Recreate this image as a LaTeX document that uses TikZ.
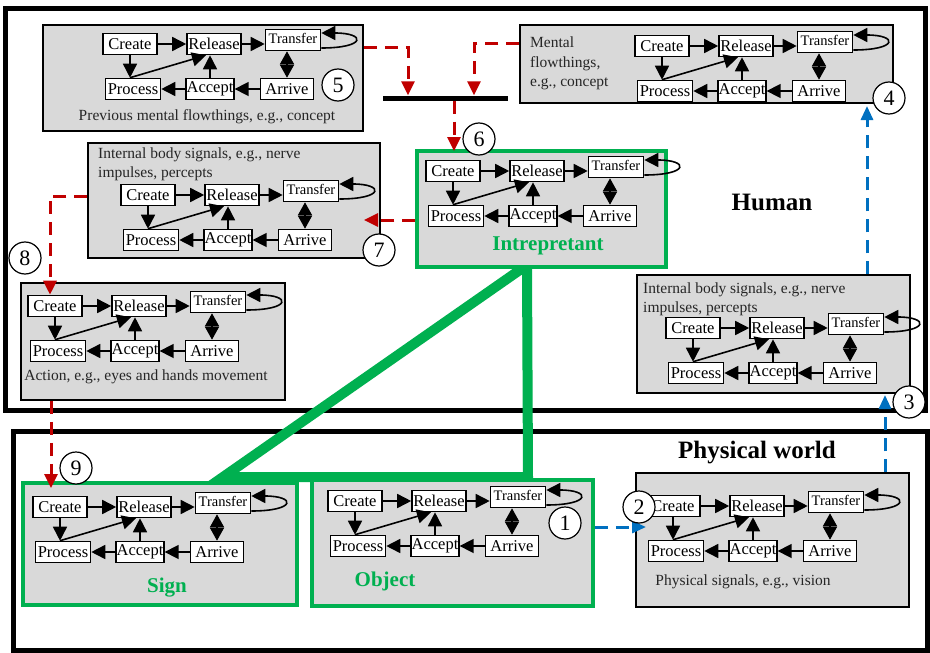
\documentclass[tikz,border=0pt]{standalone}
\usepackage{fontspec}
\setmainfont{Liberation Serif}
\usetikzlibrary{arrows.meta}

\definecolor{boxgray}{HTML}{D9D9D9}
\definecolor{signgreen}{HTML}{00B050}
\definecolor{flowred}{HTML}{C00000}
\definecolor{flowblue}{HTML}{0070C0}

\newcommand{\boxfont}{\fontsize{16.5}{17}\selectfont}
\newcommand{\transfont}{\fontsize{14.5}{15}\selectfont}
\newcommand{\descfont}{\fontsize{15.5}{18.5}\selectfont}
\newcommand{\numfont}{\fontsize{22}{24}\selectfont}
\newcommand{\labfont}{\fontsize{21}{24}\selectfont\bfseries}
\newcommand{\worldfont}{\fontsize{25}{28}\selectfont\bfseries}

% one flow system: #1 name prefix, (#2,#3) centre of Create
\newcommand{\flowsys}[3]{%
  \begin{scope}[shift={(#2,#3)}]
    \node[flowbox, minimum width=54] (#1c) at (0,0) {Create};
    \node[flowbox, minimum width=54] (#1r) at (84,0) {Release};
    \node[flowbox, minimum width=55, font=\transfont, text depth=4pt] (#1t) at (163,-4) {Transfer};
    \node[flowbox, minimum width=55] (#1p) at (3,45) {Process};
    \node[flowbox, minimum width=44] (#1a) at (80,45) {Accept};
    \node[flowbox, minimum width=53] (#1v) at (157,45) {Arrive};
    \draw[flowarr] (#1c) -- (#1r);
    \draw[flowarr] (#1r.east) -- (#1r.east -| #1t.west);
    \draw[flowarr] ([yshift=-8pt]#1t.east) .. controls +(45,0) and +(45,0) .. ([yshift=7pt]#1t.east);
    \draw[flowdbl] (#1v.north |- #1t.south) -- (#1v.north);
    \draw[flowarr] (#1v) -- (#1a);
    \draw[flowarr] (#1a.north) -- (#1a.north |- #1r.south);
    \draw[flowarr] (#1a) -- (#1p);
    \draw[flowarr] (#1c.south) -- (#1c.south |- #1p.north);
    \draw[flowarr] ([xshift=-3pt]#1p.north) -- ([xshift=-8pt]#1r.south);
  \end{scope}}

\begin{document}
\begin{tikzpicture}[x=1pt, y=-1pt,
    flowbox/.style={draw, fill=white, line width=1.6pt, inner sep=0.5pt, minimum height=21, font=\boxfont},
    flowarr/.style={line width=1.6pt, -{Triangle[length=14pt,width=14pt]}},
    flowdbl/.style={line width=1.6pt, {Triangle[length=13pt,width=14pt]}-{Triangle[length=13pt,width=14pt]}},
    modbox/.style={draw, fill=boxgray, line width=1.5pt, inner sep=0},
    signbox/.style={modbox, draw=signgreen, line width=3.5pt},
    numnode/.style={circle, draw, fill=white, line width=1.2pt, minimum size=32, inner sep=0, font=\numfont},
    redarr/.style={flowred, line width=3pt, dash pattern=on 13pt off 8pt, -{Triangle[length=14pt,width=13pt]}},
    bluearr/.style={flowblue, line width=3pt, dash pattern=on 13pt off 8pt, -{Triangle[length=14pt,width=12pt]}},
    desc/.style={inner sep=0, font=\descfont, text=black!85}]
    \useasboundingbox (0,0) rectangle (930,653);

    % the two worlds
    \draw[line width=5pt] (5,8) rectangle (925,410);
    \draw[line width=5pt] (13,431) rectangle (927,650);
    \node[font=\worldfont] (human) at (772,202) {Human};
    \node[font=\worldfont] (world) at (757,453) {Physical world};

    % sign triangle
    \draw[signgreen, line width=10pt] (527,265) -- (223,477) -- (528,477) -- cycle;

    % spheres
    \node[modbox, minimum width=320, minimum height=106] (prev) at (203,78) {};
    \node[modbox, minimum width=373, minimum height=78] (ment) at (706.5,64) {};
    \node[signbox, minimum width=249, minimum height=116] (intr) at (541.5,209) {};
    \node[modbox, minimum width=292, minimum height=115] (mint) at (234,200.5) {};
    \node[modbox, minimum width=264, minimum height=117] (act) at (153,341.5) {};
    \node[modbox, minimum width=273, minimum height=118] (rint) at (773.5,334) {};
    \node[signbox, minimum width=274, minimum height=122] (sign) at (160,544) {};
    \node[signbox, minimum width=281, minimum height=126] (obj) at (452.5,543) {};
    \node[modbox, minimum width=273, minimum height=134] (phys) at (772.5,540) {};

    \foreach \n/\x/\y in {prev/130/44, ment/662/46, intr/453/171, mint/148/195, act/55/306,
        rint/693/328, sign/60/507, obj/355/501, phys/673/506}
        {\flowsys{\n}{\x}{\y}}

    % texts
    \node[desc] (prevtxt) at (207,117) {Previous mental flowthings, e.g., concept};
    \node[desc, align=left, anchor=north west, font=\fontsize{15.5}{19.5}\selectfont] (menttxt) at (530,37) {Mental\\flowthings,\\e.g., concept};
    \node[desc, align=left, anchor=north west] (minttxt) at (98,148) {Internal body signals, e.g., nerve\\impulses, percepts};
    \node[desc, align=left, anchor=north west] (rinttxt) at (643,283) {Internal body signals, e.g., nerve\\impulses, percepts};
    \node[desc] (acttxt) at (146,377) {Action, e.g., eyes and hands movement};
    \node[desc] (phystxt) at (743,582) {Physical signals, e.g., vision};
    \node[font=\labfont, text=signgreen] (intrlab) at (548,246) {Intrepretant};
    \node[font=\labfont, text=signgreen] (signlab) at (167,588) {Sign};
    \node[font=\labfont, text=signgreen] (objlab) at (385,581) {Object};

    % flows
    \node[fill=black, minimum width=125, minimum height=5, inner sep=0] (bar) at (445,98) {};
    \coordinate (c6) at (454,151);
    \coordinate (c7) at (364,220);
    \coordinate (c9) at (51,488);
    \coordinate (c2) at (646,527);
    \coordinate (c3) at (885,395);
    \coordinate (c4) at (867,106);
    \draw[redarr] ([yshift=31pt]prev.east) -| ([xshift=-37pt]bar.north);
    \draw[redarr] ([yshift=21pt]ment.west) -| ([xshift=29pt]bar.north);
    \draw[redarr] (bar.south -| c6) -- (c6);
    \draw[redarr] (intr.west |- c7) -- (c7);
    \draw[redarr] ([yshift=4pt]mint.west) -| ([xshift=-5pt]actc.north);
    \draw[redarr] (act.south -| c9) -- (c9);
    \draw[bluearr] (obj.east |- c2) -- (c2);
    \draw[bluearr] (phys.north -| c3) -- (c3);
    \draw[bluearr] (rint.north -| c4) -- (c4);

    \foreach \k/\x/\y in {1/565/523, 2/639/507, 3/909/402, 4/889/98, 5/338/85,
        6/479/139, 7/379/250, 8/25/258, 9/76/468}
        \node[numnode] (n\k) at (\x,\y) {\k};
\end{tikzpicture}
\end{document}
